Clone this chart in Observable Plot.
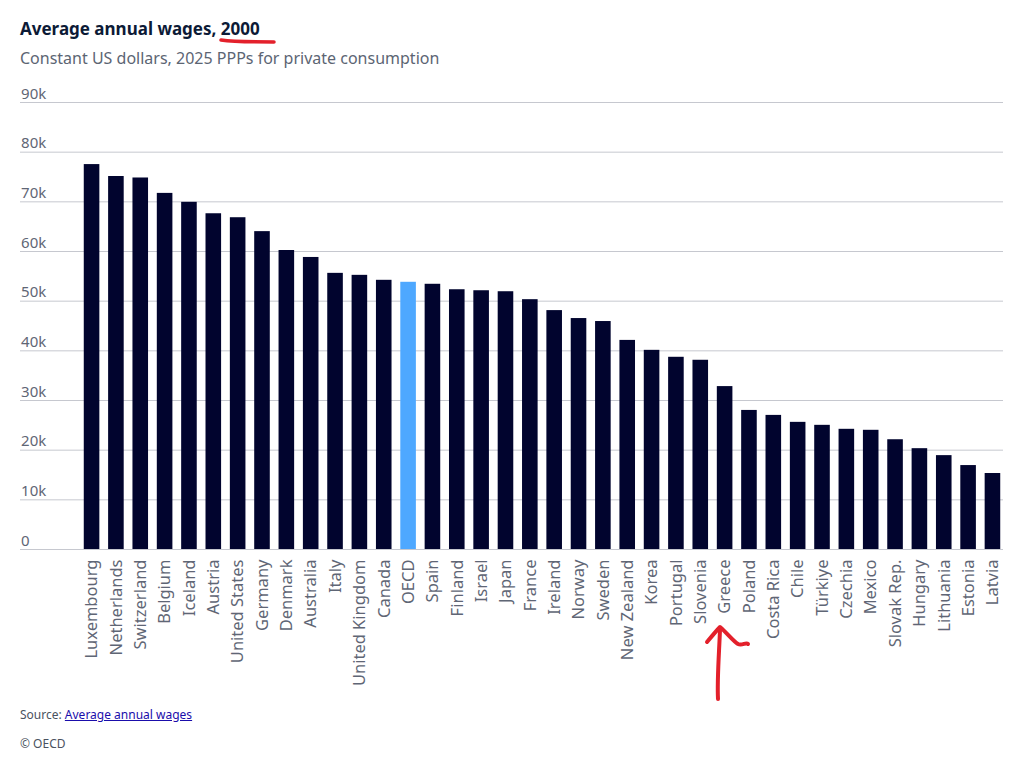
<!DOCTYPE html>
<html>
<head>
<meta charset="utf-8">
<script src="https://cdn.jsdelivr.net/npm/d3@7"></script>
<script src="https://cdn.jsdelivr.net/npm/@observablehq/plot@0.6"></script>
<style>
  html, body { margin: 0; padding: 0; background: #fff; }
  body { width: 1024px; height: 768px; position: relative; font-family: "Noto Sans", sans-serif; overflow: hidden; }
  #title { position: absolute; left: 20px; top: 17px; font-size: 17px; font-weight: 700; color: #0c1a36; }
  #subtitle { position: absolute; left: 20px; top: 47px; font-size: 16px; color: #5c6573; }
  #chart { position: absolute; left: 0; top: 80px; }
  #source { position: absolute; left: 20px; top: 706px; font-size: 12px; color: #4a5260; }
  #source a { color: #1a0dab; text-decoration: underline; }
  #copy { position: absolute; left: 20px; top: 735px; font-size: 12px; color: #4a5260; }
  #annot { position: absolute; left: 0; top: 0; pointer-events: none; }
</style>
</head>
<body>
<div id="title">Average annual wages, 2000</div>
<div id="subtitle">Constant US dollars, 2025 PPPs for private consumption</div>
<div id="chart"></div>
<div id="source">Source: <a href="#">Average annual wages</a></div>
<div id="copy">© OECD</div>
<svg id="annot" width="1024" height="768">
  <path d="M221,40 C235,42 255,42 274,42" fill="none" stroke="#e3202b" stroke-width="3.5" stroke-linecap="round"/>
  <path d="M718,699 C717,680 719,655 720,630" fill="none" stroke="#e3202b" stroke-width="4" stroke-linecap="round"/>
  <path d="M707,642 C712,636 717,630 720,627 C727,633 733,641 738,644 C742,646 746,642 748,644" fill="none" stroke="#e3202b" stroke-width="4" stroke-linecap="round" stroke-linejoin="round"/>
</svg>
<script>
const countries = ["Luxembourg","Netherlands","Switzerland","Belgium","Iceland","Austria","United States","Germany","Denmark","Australia","Italy","United Kingdom","Canada","OECD","Spain","Finland","Israel","Japan","France","Ireland","Norway","Sweden","New Zealand","Korea","Portugal","Slovenia","Greece","Poland","Costa Rica","Chile","Türkiye","Czechia","Mexico","Slovak Rep.","Hungary","Lithuania","Estonia","Latvia"];
const wages = [77500,75100,74800,71700,69900,67600,66800,64000,60200,58800,55600,55200,54200,53800,53400,52300,52100,51900,50300,48100,46500,45900,42100,40100,38700,38100,32800,28000,27000,25600,25000,24200,24000,22100,20300,18900,16900,15300];
const yTicks = [0,10000,20000,30000,40000,50000,60000,70000,80000,90000];
const highlight = "OECD";

const data = countries.map((c, i) => ({country: c, value: wages[i]}));

const chart = Plot.plot({
  width: 1024,
  height: 609,
  marginTop: 22,
  marginBottom: 140,
  marginLeft: 75,
  marginRight: 15,
  style: {fontFamily: "Noto Sans, sans-serif", fontSize: "15px", color: "#5f6675", background: "#fff"},
  x: {type: "band", domain: countries, padding: 0.36, round: false, label: null},
  y: {domain: [0, 90000], label: null, axis: null},
  marks: [
    Plot.ruleY(yTicks, {stroke: "#c6c8cf", strokeWidth: 1, insetLeft: -55, insetRight: 6}),
    Plot.barY(data, {x: "country", y: "value", fill: d => d.country === highlight ? "#4ea8ff" : "#01042e"}),
    Plot.text(yTicks, {
      x: () => countries[0], y: d => d, text: d => d === 0 ? "0" : (d / 1000) + "k",
      textAnchor: "start", lineAnchor: "bottom", dx: -71, dy: -4,
      fill: "#5f6675", fontSize: 15
    }),
    Plot.axisX({tickSize: 0, tickRotate: -90, tickPadding: 10, fontSize: 16.5, fill: "#5f6675", label: null})
  ]
});
document.getElementById("chart").appendChild(chart);
</script>
</body>
</html>
